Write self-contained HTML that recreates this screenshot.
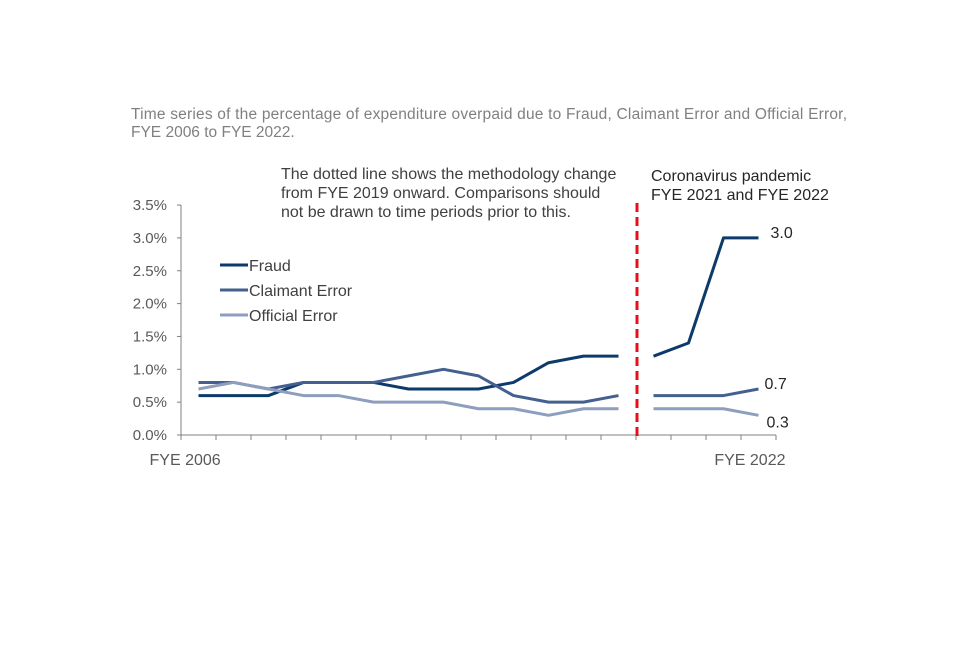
<!DOCTYPE html>
<html><head><meta charset="utf-8"><style>
body{margin:0;background:#fff;width:960px;height:640px;overflow:hidden;font-family:"Liberation Sans",sans-serif}
</style></head><body>
<svg width="960" height="640" id="c" style="font-family:'Liberation Sans',sans-serif">
<text x="131" y="119" font-size="15.5" fill="#808080" textLength="716" lengthAdjust="spacing">Time series of the percentage of expenditure  overpaid due to Fraud, Claimant Error and Official Error,</text>
<text x="131" y="137" font-size="15.5" fill="#808080">FYE 2006 to FYE 2022.</text>
<g font-size="16" fill="#404040">
<text x="281" y="179">The dotted line shows the methodology change</text>
<text x="281" y="198">from FYE 2019 onward. Comparisons should</text>
<text x="281" y="217">not be drawn to time periods prior to this.</text>
</g>
<g font-size="16" fill="#262626">
<text x="651" y="181">Coronavirus pandemic</text>
<text x="651" y="200">FYE 2021 and FYE 2022</text>
</g>
<g id="axes"></g><g id="series"></g>
</svg>
<script>
const categories=["FYE 2006","FYE 2007","FYE 2008","FYE 2009","FYE 2010","FYE 2011","FYE 2012","FYE 2013","FYE 2014","FYE 2015","FYE 2016","FYE 2017","FYE 2018","FYE 2019","FYE 2020","FYE 2021","FYE 2022"];
const fraud=[0.6,0.6,0.6,0.8,0.8,0.8,0.7,0.7,0.7,0.8,1.1,1.2,1.2,1.2,1.4,3.0,3.0];
const claimant=[0.8,0.8,0.7,0.8,0.8,0.8,0.9,1.0,0.9,0.6,0.5,0.5,0.6,0.6,0.6,0.6,0.7];
const official=[0.7,0.8,0.7,0.6,0.6,0.5,0.5,0.5,0.4,0.4,0.3,0.4,0.4,0.4,0.4,0.4,0.3];
const yTicks=[0,0.5,1.0,1.5,2.0,2.5,3.0,3.5];
const breakIndex=13;
const NS="http://www.w3.org/2000/svg";
const x0=181,step=35,yBase=435,yScale=65.7;
const xPos=i=>x0+step*(i+0.5);
const yPos=v=>yBase-v*yScale;
const ax=document.getElementById('axes'),sg=document.getElementById('series');
function mk(tag,attrs,parent){const e=document.createElementNS(NS,tag);for(const k in attrs)e.setAttribute(k,attrs[k]);parent.appendChild(e);return e;}
const yl=mk('line',{x1:x0,x2:x0,y1:yPos(3.5),y2:yBase,stroke:'#808080','stroke-width':1},ax);


const xl=mk('line',{x1:x0,x2:x0+step*categories.length,y1:yBase,y2:yBase,stroke:'#808080','stroke-width':1},ax);


yTicks.forEach(v=>{
 mk('line',{x1:x0-4,x2:x0,y1:yPos(v),y2:yPos(v),stroke:'#808080'},ax);
 const t=mk('text',{x:x0-14,y:yPos(v)+5,'text-anchor':'end','font-size':15,fill:'#595959'},ax);
 t.textContent=v.toFixed(1)+'%';
 
 
});
for(let i=0;i<=categories.length;i++){mk('line',{x1:x0+step*i,x2:x0+step*i,y1:yBase,y2:yBase+5,stroke:'#808080'},ax);}
[[0,'start',-49],[categories.length-1,'end',27]].forEach(([i,a,dx])=>{
 const t=mk('text',{x:xPos(i)+dx,y:465,'text-anchor':a,'font-size':16,fill:'#595959'},ax);
 t.textContent=categories[i];
 
 
});
const dx0=x0+step*breakIndex+1;
const dl=mk('line',{x1:dx0,x2:dx0,y1:203,y2:437,stroke:'#e3111a','stroke-width':3,'stroke-dasharray':'9,5'},ax);


const series=[['fraud',fraud,'#0c3a6b'],['claimant-error',claimant,'#44608f'],['official-error',official,'#8e9ebf']];
series.forEach(([n,d,c])=>{
 [[0,breakIndex],[breakIndex,d.length]].forEach(([a,b],k)=>{
  const pts=d.slice(a,b).map((v,j)=>xPos(a+j)+','+yPos(v)).join(' ');
  const p=mk('polyline',{points:pts,fill:'none',stroke:c,'stroke-width':3,'stroke-linejoin':'round'},sg);
  
  
 });
});
const last=categories.length-1;
[[fraud,0,12],[claimant,0,6],[official,12,8]].forEach(([d,dy,dx])=>{
 const t=mk('text',{x:xPos(last)+dx,y:yPos(d[last])+dy,'font-size':16,fill:'#262626'},sg);
 t.textContent=d[last].toFixed(1);
 
 
});
const lg=mk('g',{},sg);


series.forEach(([n,d,c],i)=>{
 const y=265+25*i;
 mk('line',{x1:220,x2:248,y1:y,y2:y,stroke:c,'stroke-width':3},lg);
 const t=mk('text',{x:249,y:y+6,'font-size':16,fill:'#404040'},lg);
 t.textContent=['Fraud','Claimant Error','Official Error'][i];
 
 
});
</script>
</body></html>
